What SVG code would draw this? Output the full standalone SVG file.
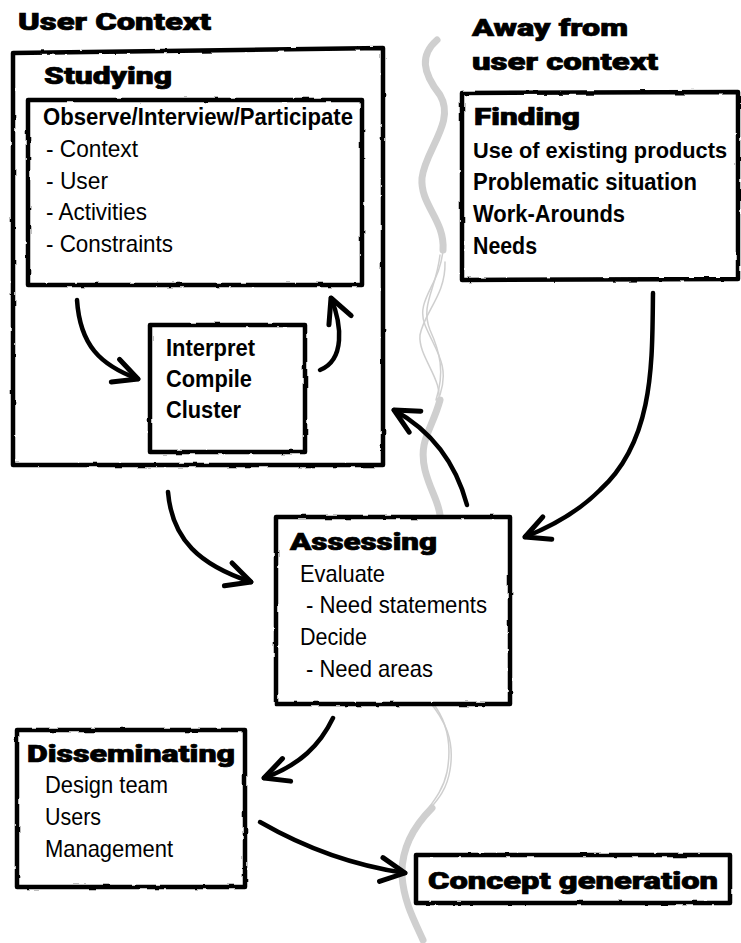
<svg xmlns="http://www.w3.org/2000/svg" width="741" height="943" viewBox="0 0 741 943">
<style>
.box{fill:#fff;stroke:#000;stroke-width:4.5;stroke-linejoin:round;filter:url(#rough)}
.heavy{font-family:Roboto,"Liberation Sans","DejaVu Sans",sans-serif;font-weight:900;font-size:24px;fill:#000;stroke:#000;stroke-width:0.7}
.b{font-family:"Liberation Sans Narrow","Liberation Sans",Arial,sans-serif;font-weight:bold;font-size:23.5px;fill:#000}
.r{font-family:"Liberation Sans Narrow","Liberation Sans",Arial,sans-serif;font-size:24px;fill:#000}
.arr{fill:none;stroke:#000;stroke-width:4.5;stroke-linecap:round;marker-end:url(#head)}
.grey{fill:none;stroke:#cfcfcf;stroke-linecap:round}
</style>
<defs>
<filter id="rough" x="-5%" y="-5%" width="110%" height="110%">
<feTurbulence type="fractalNoise" baseFrequency="0.08" numOctaves="2" seed="3" result="n"/>
<feDisplacementMap in="SourceGraphic" in2="n" scale="2.5"/>
</filter>
<marker id="head" viewBox="0 0 30 30" refX="27" refY="15" markerWidth="30" markerHeight="30" markerUnits="userSpaceOnUse" orient="auto">
<path d="M3,3 L27,15 L3,27" fill="none" stroke="#000" stroke-width="5" stroke-linecap="round" stroke-linejoin="round"/>
</marker>
</defs>
<rect width="741" height="943" fill="#fff"/>

<g id="divider">
<path class="grey" stroke-width="7" d="M437,40 C420,55 422,72 440,95 C456,122 425,150 422,178 C420,205 445,220 443,250"/>
<path class="grey" stroke-width="1.5" d="M443,250 C440,285 415,300 425,325 C435,350 450,365 440,395"/>
<path class="grey" stroke-width="1.5" d="M440,255 C436,290 420,305 430,330 C440,352 445,372 436,400"/>
<path class="grey" stroke-width="1.5" d="M445,262 C446,295 424,312 420,335 C418,358 445,380 438,405"/>
<path class="grey" stroke-width="7" d="M440,400 C432,430 418,440 425,470 C430,490 438,500 440,515"/>
<path class="grey" stroke-width="1.5" d="M428,700 C445,720 455,740 450,770 C446,795 432,805 425,815"/>
<path class="grey" stroke-width="1.5" d="M432,702 C448,722 452,745 447,772 C443,792 430,805 420,820"/>
<path class="grey" stroke-width="7" d="M432,808 C412,828 401,850 402,876 C404,902 414,920 423,940"/>
</g>

<text class="heavy" x="18" y="30" textLength="193" lengthAdjust="spacingAndGlyphs">User Context</text>
<text class="heavy" x="472" y="36" textLength="156" lengthAdjust="spacingAndGlyphs">Away from</text>
<text class="heavy" x="472" y="70" textLength="186" lengthAdjust="spacingAndGlyphs">user context</text>

<g id="studying">
<path class="box" stroke-width="5.5" d="M13,53 L383,48 L383,465 L13,465 Z"/>
<text class="heavy" x="44" y="84" textLength="128" lengthAdjust="spacingAndGlyphs">Studying</text>
</g>
<g id="observe">
<rect class="box" x="28" y="100" width="334" height="185"/>
<text class="b" x="43" y="125" textLength="310" lengthAdjust="spacingAndGlyphs">Observe/Interview/Participate</text>
<text class="r" x="46" y="157" textLength="92" lengthAdjust="spacingAndGlyphs">- Context</text>
<text class="r" x="46" y="189" textLength="62" lengthAdjust="spacingAndGlyphs">- User</text>
<text class="r" x="46" y="220" textLength="101" lengthAdjust="spacingAndGlyphs">- Activities</text>
<text class="r" x="46" y="252" textLength="127" lengthAdjust="spacingAndGlyphs">- Constraints</text>
</g>
<g id="interpret">
<rect class="box" x="150" y="325" width="155" height="127"/>
<text class="b" x="166" y="356" textLength="89" lengthAdjust="spacingAndGlyphs">Interpret</text>
<text class="b" x="166" y="387" textLength="86" lengthAdjust="spacingAndGlyphs">Compile</text>
<text class="b" x="166" y="418" textLength="75" lengthAdjust="spacingAndGlyphs">Cluster</text>
</g>
<g id="finding">
<path class="box" d="M462,93 L738,92 L738,279 L462,280 Z"/>
<text class="heavy" x="474" y="125" textLength="106" lengthAdjust="spacingAndGlyphs">Finding</text>
<text class="b" x="473" y="158" style="font-size:22px" textLength="254" lengthAdjust="spacingAndGlyphs">Use of existing products</text>
<text class="b" x="473" y="190" textLength="224" lengthAdjust="spacingAndGlyphs">Problematic situation</text>
<text class="b" x="473" y="222" textLength="152" lengthAdjust="spacingAndGlyphs">Work-Arounds</text>
<text class="b" x="473" y="254" textLength="64" lengthAdjust="spacingAndGlyphs">Needs</text>
</g>
<g id="assessing">
<rect class="box" x="276" y="517" width="234" height="187"/>
<text class="heavy" x="290" y="550" textLength="147" lengthAdjust="spacingAndGlyphs">Assessing</text>
<text class="r" x="300" y="582" textLength="85" lengthAdjust="spacingAndGlyphs">Evaluate</text>
<text class="r" x="306" y="613" textLength="181" lengthAdjust="spacingAndGlyphs">- Need statements</text>
<text class="r" x="300" y="645" textLength="67" lengthAdjust="spacingAndGlyphs">Decide</text>
<text class="r" x="306" y="677" textLength="127" lengthAdjust="spacingAndGlyphs">- Need areas</text>
</g>
<g id="disseminating">
<rect class="box" x="17" y="730" width="228" height="157"/>
<text class="heavy" x="27" y="762" textLength="208" lengthAdjust="spacingAndGlyphs">Disseminating</text>
<text class="r" x="45" y="793" textLength="123" lengthAdjust="spacingAndGlyphs">Design team</text>
<text class="r" x="45" y="825" textLength="56" lengthAdjust="spacingAndGlyphs">Users</text>
<text class="r" x="45" y="857" textLength="128" lengthAdjust="spacingAndGlyphs">Management</text>
</g>
<g id="concept">
<rect class="box" x="416" y="855" width="314" height="48"/>
<text class="heavy" x="428" y="889" textLength="290" lengthAdjust="spacingAndGlyphs">Concept generation</text>
</g>

<g id="connectors">
<path class="arr" d="M77,300 C80,345 100,365 138,379"/>
<path class="arr" d="M320,370 C345,360 342,325 331,298"/>
<path class="arr" d="M168,492 C172,540 200,565 251,582"/>
<path class="arr" d="M467,505 C455,460 430,430 394,410"/>
<path class="arr" d="M653,293 C652,360 655,440 600,490 C580,510 555,525 525,537"/>
<path class="arr" d="M333,718 C320,745 300,765 264,778"/>
<path class="arr" d="M260,822 C300,845 350,865 405,873"/>
</g>
</svg>
